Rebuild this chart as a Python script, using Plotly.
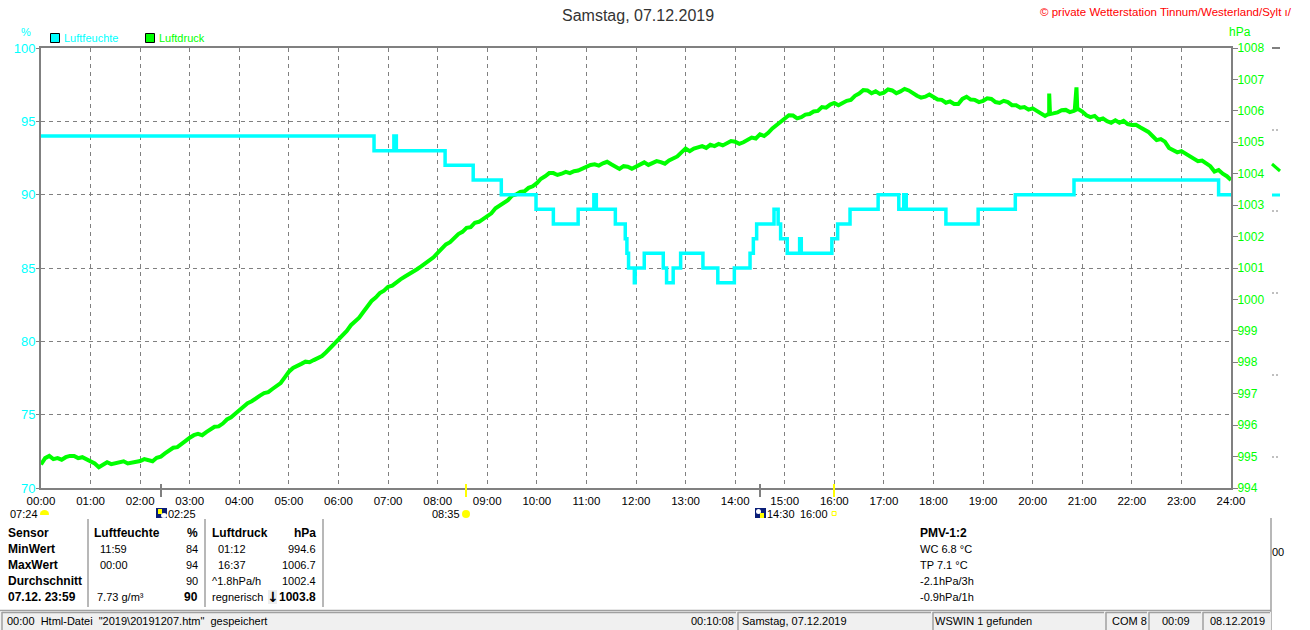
import plotly.graph_objects as go

# =======================
# Data
# =======================
hum_times = ["00:00", "06:43", "07:07", "07:10", "08:09", "08:43", "09:17", "09:59", "10:20", "10:50",
             "11:09", "11:12", "11:14", "11:35", "11:47", "11:49", "11:50", "11:51", "11:58", "11:59",
             "12:00", "12:10", "12:33", "12:37", "12:45", "12:54", "13:21", "13:39", "13:59", "14:18",
             "14:20", "14:22", "14:26", "14:47", "14:49", "14:52", "14:55", "15:03", "15:18", "15:20",
             "15:22", "15:57", "16:04", "16:19", "16:53", "17:18", "17:24", "17:27", "18:15", "18:54",
             "19:39", "20:50", "23:45", "24:00"]
hum_values = [94, 93, 94, 93, 92, 91, 90, 89, 88, 89,
              90, 89, 89, 88, 87, 86, 86, 85, 84, 85,
              85, 86, 85, 84, 85, 86, 85, 84, 85, 86,
              86, 87, 88, 89, 89, 88, 87, 86, 87, 86,
              86, 87, 88, 89, 90, 89, 90, 89, 88, 89,
              90, 91, 90, 90]

# one row per hour, 5 minute steps
press_values = [
    994.75, 994.95, 995.02, 994.92, 994.95, 994.90, 994.98, 995.02, 995.02, 994.95, 994.98, 994.92,
    994.85, 994.78, 994.66, 994.74, 994.82, 994.76, 994.78, 994.82, 994.85, 994.78, 994.80, 994.84,
    994.86, 994.92, 994.90, 994.85, 994.96, 995.00, 995.10, 995.18, 995.28, 995.30, 995.42, 995.50,
    995.60, 995.68, 995.72, 995.68, 995.78, 995.86, 995.95, 995.96, 996.05, 996.18, 996.25, 996.36,
    996.48, 996.58, 996.70, 996.76, 996.86, 996.94, 997.02, 997.05, 997.15, 997.26, 997.34, 997.52,
    997.70, 997.82, 997.90, 997.95, 998.02, 998.00, 998.07, 998.12, 998.20, 998.32, 998.45, 998.60,
    998.75, 998.86, 999.00, 999.18, 999.30, 999.42, 999.60, 999.78, 999.95, 1000.06, 1000.20, 1000.28,
    1000.40, 1000.44, 1000.55, 1000.64, 1000.72, 1000.80, 1000.85, 1000.96, 1001.05, 1001.14, 1001.22, 1001.34,
    1001.48, 1001.62, 1001.75, 1001.82, 1001.95, 1002.08, 1002.15, 1002.28, 1002.30, 1002.44, 1002.47, 1002.56,
    1002.68, 1002.74, 1002.90, 1003.00, 1003.10, 1003.16, 1003.30, 1003.34, 1003.42, 1003.44, 1003.55, 1003.60,
    1003.70, 1003.84, 1003.92, 1004.02, 1004.02, 1003.96, 1004.00, 1004.06, 1004.02, 1004.08, 1004.10, 1004.16,
    1004.20, 1004.28, 1004.30, 1004.26, 1004.33, 1004.38, 1004.30, 1004.24, 1004.15, 1004.24, 1004.22, 1004.16,
    1004.22, 1004.30, 1004.36, 1004.28, 1004.33, 1004.40, 1004.37, 1004.32, 1004.42, 1004.50, 1004.55, 1004.68,
    1004.80, 1004.72, 1004.80, 1004.84, 1004.88, 1004.82, 1004.92, 1004.88, 1004.95, 1004.90, 1004.98, 1005.04,
    1005.02, 1004.95, 1005.00, 1005.08, 1005.15, 1005.12, 1005.25, 1005.20, 1005.30, 1005.44, 1005.55, 1005.66,
    1005.75, 1005.86, 1005.85, 1005.76, 1005.80, 1005.88, 1005.90, 1005.98, 1006.00, 1006.12, 1006.10, 1006.20,
    1006.25, 1006.18, 1006.25, 1006.32, 1006.35, 1006.48, 1006.55, 1006.66, 1006.65, 1006.56, 1006.62, 1006.54,
    1006.58, 1006.68, 1006.65, 1006.56, 1006.62, 1006.70, 1006.65, 1006.55, 1006.48, 1006.42, 1006.45, 1006.52,
    1006.45, 1006.36, 1006.35, 1006.26, 1006.30, 1006.22, 1006.22, 1006.38, 1006.45, 1006.36, 1006.35, 1006.28,
    1006.32, 1006.40, 1006.38, 1006.28, 1006.25, 1006.32, 1006.28, 1006.18, 1006.18, 1006.10, 1006.12, 1006.04,
    1006.08, 1006.00, 1005.95, 1005.84, 1005.86, 1005.92, 1005.95, 1006.02, 1006.03, 1005.96, 1006.00, 1006.06,
    1005.98, 1005.86, 1005.80, 1005.84, 1005.72, 1005.76, 1005.67, 1005.62, 1005.70, 1005.62, 1005.68, 1005.58,
    1005.55, 1005.56, 1005.48, 1005.42, 1005.33, 1005.20, 1005.07, 1005.10, 1005.02, 1004.82, 1004.75, 1004.68,
    1004.72, 1004.64, 1004.56, 1004.50, 1004.40, 1004.42, 1004.33, 1004.24, 1004.07, 1004.12, 1004.00, 1003.92,
    1003.80,
]
press_minutes = list(range(0, 1441, 5))

# short spikes between the 5 minute readings
spike_minutes = [1219, 1220, 1221, 1251, 1252, 1253, 1254]
spike_values = [1005.90, 1006.55, 1005.90, 1006.05, 1006.75, 1006.75, 1006.05]

hour_ticks = [f"{h:02d}:00" for h in range(25)]
hum_ticks = [70, 75, 80, 85, 90, 95, 100]
press_ticks = list(range(994, 1009))

GRAY = "#808080"
CYAN = "#00FFFF"
GREEN = "#00FF00"
YELLOW = "#FFFF00"
NAVY = "#0A1E78"
SANS = "Liberation Sans, Arial"


def to_min(t):
    h, m = t.split(":")
    return int(h) * 60 + int(m)


# Pixel position in the window -> paper coordinates
L, R, T, B = 41, 1231, 48, 488


def px(x):
    return (x - L) / (R - L)


def py(y):
    return (B - y) / (B - T)


press = sorted(list(zip(press_minutes, press_values)) + list(zip(spike_minutes, spike_values)))

fig = go.Figure()

# pressure sits on the first axis so that humidity draws over it
fig.add_trace(go.Scatter(x=[p[0] for p in press], y=[p[1] for p in press], mode="lines",
                         line=dict(color=GREEN, width=4), name="Luftdruck",
                         yaxis="y", showlegend=False))
fig.add_trace(go.Scatter(x=[to_min(t) for t in hum_times], y=hum_values, mode="lines",
                         line=dict(color=CYAN, width=3.5, shape="hv"), name="Luftfeuchte",
                         yaxis="y2", showlegend=False))

shapes = []
annos = []


def rect(x0, y0, x1, y1, fill, line=None, lw=0):
    shapes.append(dict(type="rect", xref="paper", yref="paper", x0=px(x0), x1=px(x1),
                       y0=py(y0), y1=py(y1), fillcolor=fill,
                       line=dict(color=line or fill, width=lw)))


def seg(x0, y0, x1, y1, color=GRAY, w=1, dash=None):
    shapes.append(dict(type="line", xref="paper", yref="paper", x0=px(x0), x1=px(x1),
                       y0=py(y0), y1=py(y1), line=dict(color=color, width=w, dash=dash)))


def disc(x0, y0, x1, y1, fill, line=None, lw=0):
    shapes.append(dict(type="circle", xref="paper", yref="paper", x0=px(x0), x1=px(x1),
                       y0=py(y0), y1=py(y1), fillcolor=fill,
                       line=dict(color=line or fill, width=lw)))


def txt(x, y, s, anchor="left", color="#000000", size=11, family=SANS, bold=False):
    annos.append(dict(xref="paper", yref="paper", x=px(x), y=py(y), text=f"<b>{s}</b>" if bold else s,
                      showarrow=False, xanchor=anchor, yanchor="middle", align=anchor,
                      borderpad=0, font=dict(color=color, size=size, family=family)))


# =======================
# Head
# =======================
txt(638, 15, "Samstag, 07.12.2019", "center", "#333333", 16)
txt(1039, 12, "© private Wetterstation Tinnum/Westerland/Sylt ı/", "left", "#FF0000", 11.5)
txt(26, 32, "%", "center", CYAN, 11)
txt(1240, 32, "hPa", "center", GREEN, 12)
rect(50.5, 33.5, 59.5, 42.5, CYAN, "#000000", 1)
txt(63, 38, "Luftfeuchte", "left", CYAN)
rect(145.5, 33.5, 154.5, 42.5, GREEN, "#000000", 1)
txt(158, 38, "Luftdruck", "left", GREEN)

# =======================
# Sun and moon row
# =======================
seg(161, 484, 161, 497, GRAY, 2)
seg(466, 484, 466, 497, YELLOW, 2)
seg(760, 484, 760, 497, GRAY, 2)
seg(834, 484, 834, 497, YELLOW, 2)

txt(9, 514, "07:24")
disc(40, 510, 49, 518, YELLOW)
rect(40, 515, 49, 518, "#FFFFFF")
rect(156, 508, 167, 518, NAVY)
rect(158, 509, 162, 514, YELLOW)
disc(161, 513, 167, 518, "#FFFFFF")
txt(167, 514, "02:25")
txt(431, 514, "08:35")
disc(462, 510, 470, 518, YELLOW)
rect(755, 508, 766, 518, NAVY)
disc(756, 509, 761, 514, "#FFFFFF")
rect(760, 513, 764, 518, YELLOW)
txt(766, 514, "14:30")
txt(799, 514, "16:00")
rect(832, 511.5, 836, 515.5, "#FFFFFF", YELLOW, 1)

# =======================
# Value table
# =======================
for x in (88, 205, 323):
    seg(x, 519, x, 607, "#A0A0A0", 1.5)
seg(1271, 518, 1271, 630, "#A0A0A0", 1.5)

rows = [533, 549, 565, 581, 597]
for y, s in zip(rows, ["Sensor", "MinWert", "MaxWert", "Durchschnitt", "07.12. 23:59"]):
    txt(7, y, s, size=12, bold=True)

txt(93, rows[0], "Luftfeuchte", size=12, bold=True)
txt(199, rows[0], "%", "right", size=12, bold=True)
txt(99, rows[1], "11:59")
txt(199, rows[1], "84", "right")
txt(99, rows[2], "00:00")
txt(199, rows[2], "94", "right")
txt(199, rows[3], "90", "right")
txt(96, rows[4], "7.73 g/m³")
txt(199, rows[4], "90", "right", size=12, bold=True)

txt(211, rows[0], "Luftdruck", size=12, bold=True)
txt(317, rows[0], "hPa", "right", size=12, bold=True)
txt(217, rows[1], "01:12")
txt(317, rows[1], "994.6", "right")
txt(217, rows[2], "16:37")
txt(317, rows[2], "1006.7", "right")
txt(211, rows[3], "^1.8hPa/h")
txt(317, rows[3], "1002.4", "right")
txt(211, rows[4], "regnerisch")
rect(268, 590, 277, 604, "#EEEEEE")
txt(272.5, rows[4], "↓", "center", size=14, family="DejaVu Sans", bold=True)
txt(317, rows[4], "1003.8", "right", size=12, bold=True)

txt(919, rows[0], "PMV-1:2", size=12, bold=True)
txt(919, rows[1], "WC 6.8 °C")
txt(919, rows[2], "TP 7.1 °C")
txt(919, rows[3], "-2.1hPa/3h")
txt(919, rows[4], "-0.9hPa/1h")

# =======================
# Status bar
# =======================
rect(0, 612, 1271, 630, "#F0F0F0")
seg(0, 610.5, 1271, 610.5, "#A0A0A0", 1.5)
for x0, x1 in [(2, 736), (738, 931), (933, 1104), (1106, 1147), (1149, 1201), (1203, 1270)]:
    seg(x0, 612.5, x1, 612.5, "#A0A0A0", 1.5)
    seg(x0, 612, x0, 630, "#A0A0A0", 1.5)

txt(6, 621, "00:00  Html-Datei  \"2019\\20191207.htm\"  gespeichert".replace("  ", "&nbsp;&nbsp;"))
txt(690, 621, "00:10:08")
txt(741, 621, "Samstag, 07.12.2019")
txt(934, 621, "WSWIN 1 gefunden")
txt(1111, 621, "COM 8")
txt(1161, 621, "00:09")
txt(1209, 621, "08.12.2019")

# =======================
# Scraps at the right window edge
# =======================
seg(1272, 48, 1280, 48, GRAY, 2)
for y in (130, 211, 293, 375, 457):
    seg(1272, y, 1279, y, GRAY, 1, "2px,2px")
seg(1272, 164, 1280, 171, GREEN, 3)
seg(1272, 195, 1280, 195, CYAN, 3)
txt(1271, 552, "00", size=11)

# =======================
# Layout
# =======================
fig.update_layout(
    width=1310,
    height=630,
    autosize=False,
    margin=dict(l=L, r=1310 - R, t=T, b=630 - B, pad=0),
    plot_bgcolor="#FFFFFF",
    paper_bgcolor="#FFFFFF",
    font=dict(family=SANS, size=11, color="#000000"),
    shapes=shapes,
    annotations=annos,
)

fig.update_xaxes(
    range=[0, 1440],
    tickmode="array",
    tickvals=[h * 60 for h in range(25)],
    ticktext=hour_ticks,
    tickangle=0,
    showgrid=True,
    gridcolor=GRAY,
    griddash="4px,4px",
    gridwidth=1,
    zeroline=False,
    showline=True,
    linecolor=GRAY,
    linewidth=2,
    mirror=True,
    ticks="",
    ticklabelstandoff=1,
    tickfont=dict(size=11.5, family=SANS, color="#000000"),
)

fig.update_layout(
    yaxis=dict(
        range=[994, 1008],
        side="right",
        tickmode="array",
        tickvals=press_ticks,
        showgrid=False,
        zeroline=False,
        showline=True,
        linecolor=GRAY,
        linewidth=2,
        ticks="outside",
        ticklen=5,
        tickcolor=GRAY,
        ticklabelstandoff=-3,
        tickfont=dict(size=12, family=SANS, color=GREEN),
    ),
    yaxis2=dict(
        range=[70, 100],
        side="left",
        overlaying="y",
        tickmode="array",
        tickvals=hum_ticks,
        showgrid=True,
        gridcolor=GRAY,
        griddash="4px,4px",
        gridwidth=1,
        zeroline=False,
        showline=True,
        linecolor=GRAY,
        linewidth=2,
        ticks="outside",
        ticklen=3,
        tickcolor=GRAY,
        ticklabelstandoff=-2,
        tickfont=dict(size=13, family=SANS, color=CYAN),
    ),
)

fig.write_html("out.html", config={"displayModeBar": False},
               post_script="document.body.style.margin='0';")
